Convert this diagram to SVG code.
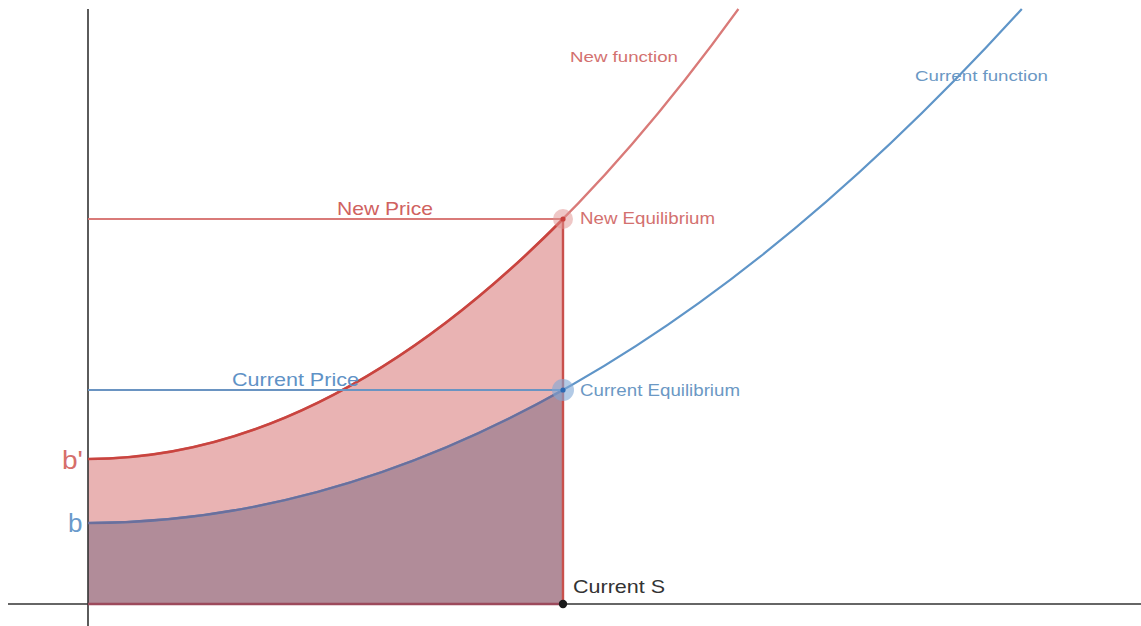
<svg xmlns="http://www.w3.org/2000/svg" width="1141" height="626" viewBox="0 0 1141 626">
<style>
text{font-family:"Liberation Sans",Arial,sans-serif}
.red{fill:#d3716f}
.blue{fill:#6b98c4}
.axis{stroke:#333;stroke-width:1.6;fill:none}
</style>
<rect width="1141" height="626" fill="#fff"/>
<g id="fills">
<path d="M88,459 Q325.5,459 563,219 L563,604 L88,604 Z" fill="#e9b3b3"/>
<path d="M88,523 Q325.5,523 563,390 L563,604 L88,604 Z" fill="#b18c99"/>
</g>
<g id="axes">
<line x1="88" y1="9" x2="88" y2="626" class="axis"/>
<line x1="8" y1="604" x2="1141" y2="604" class="axis"/>
</g>
<g id="connectors" fill="none">
<path d="M88,459 Q413.2,459 738.4,9" stroke="#d97a78" stroke-width="2.2"/>
<path d="M88,459 Q325.5,459 563,219" stroke="#c9443f" stroke-width="2.6"/>
<path d="M88,523 Q554.9,523 1021.8,9" stroke="#5f95c8" stroke-width="2.2"/>
<path d="M88,523 Q325.5,523 563,390" stroke="#6b6f9c" stroke-width="2.4"/>
<line x1="88" y1="219" x2="563" y2="219" stroke="#d97a78" stroke-width="1.8"/>
<line x1="88" y1="390" x2="563" y2="390" stroke="#6a94c2" stroke-width="1.8"/>
<line x1="563" y1="219" x2="563" y2="604" stroke="#c9504c" stroke-width="2.4"/>
<line x1="88" y1="604" x2="563" y2="604" stroke="#9c4a5c" stroke-width="2.4"/>
</g>
<g id="new-equilibrium">
<circle cx="563" cy="219" r="10" fill="#e08f8d" opacity="0.5"/>
<circle cx="563" cy="219" r="2.6" fill="#c9403c"/>
<text x="580" y="224" font-size="16.5" class="red" textLength="135" lengthAdjust="spacingAndGlyphs">New Equilibrium</text>
</g>
<g id="current-equilibrium">
<circle cx="563" cy="390" r="11" fill="#7fa6d6" opacity="0.6"/>
<circle cx="563" cy="390" r="2.6" fill="#2c69b3"/>
<text x="580" y="396" font-size="16.5" class="blue" textLength="160" lengthAdjust="spacingAndGlyphs">Current Equilibrium</text>
</g>
<g id="current-s">
<circle cx="563" cy="604" r="4.2" fill="#1a1a1a"/>
<text x="573" y="593" font-size="18.5" fill="#333" textLength="92" lengthAdjust="spacingAndGlyphs">Current S</text>
</g>
<g id="labels">
<text x="570" y="62" font-size="15.5" class="red" textLength="108" lengthAdjust="spacingAndGlyphs">New function</text>
<text x="915" y="81" font-size="15.5" class="blue" textLength="133" lengthAdjust="spacingAndGlyphs">Current function</text>
<text x="337" y="215" font-size="18.5" fill="#d0625f" textLength="96" lengthAdjust="spacingAndGlyphs">New Price</text>
<text x="232" y="386" font-size="18.5" fill="#5f92c6" textLength="127" lengthAdjust="spacingAndGlyphs">Current Price</text>
<text x="62" y="469" font-size="26" fill="#d66f6b" textLength="21" lengthAdjust="spacingAndGlyphs">b'</text>
<text x="68" y="532" font-size="26" fill="#6a9acb">b</text>
</g>
</svg>
